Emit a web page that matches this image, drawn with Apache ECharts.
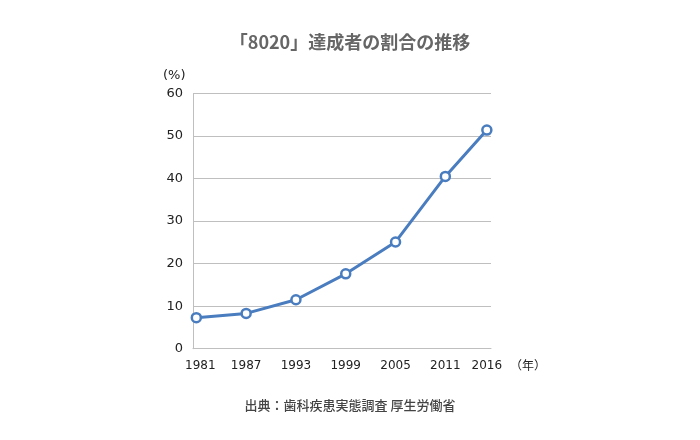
<!DOCTYPE html>
<html>
<head>
<meta charset="utf-8">
<script src="https://cdn.jsdelivr.net/npm/echarts@6/dist/echarts.min.js"></script>
<style>
html,body{margin:0;padding:0;background:#fff;}
#chart{width:700px;height:440px;}
</style>
</head>
<body>
<div id="chart"></div>
<script>
const titleText = '「8020」達成者の割合の推移';
const sourceText = '出典：歯科疾患実態調査 厚生労働省';
const years = [1981, 1987, 1993, 1999, 2005, 2011, 2016];
const rates = [7.3, 8.3, 11.5, 17.6, 25.1, 40.5, 51.4];
const yTicks = [0, 10, 20, 30, 40, 50, 60];

const chart = echarts.init(document.getElementById('chart'), null, {renderer: 'canvas'});
const font = '"DejaVu Sans", Verdana, sans-serif';
const cjk = '"Noto Sans CJK JP", sans-serif';

chart.setOption({
  backgroundColor: '#ffffff',
  animation: false,
  title: {
    text: titleText,
    left: 'center',
    top: 28,
    textStyle: {fontFamily: cjk, fontSize: 18, fontWeight: 'bold', color: '#666666'}
  },
  grid: {left: 193, top: 93.5, width: 298, height: 255.2, containLabel: false},
  xAxis: {
    type: 'value',
    min: 1980.6,
    max: 2016.5,
    axisLine: {show: true, lineStyle: {color: '#bfbfbf', width: 1}},
    axisTick: {show: false},
    splitLine: {show: false},
    axisLabel: {
      customValues: years,
      showMinLabel: true,
      showMaxLabel: true,
      margin: 11,
      fontFamily: font, fontSize: 12, color: '#222222',
      formatter: v => v === years[0] ? '{first|' + v + '}' : String(v),
      rich: {first: {fontFamily: font, fontSize: 12, color: '#222222', padding: [0, 0, 0, 8]}}
    }
  },
  yAxis: {
    type: 'value',
    min: 0,
    max: 60,
    interval: 10,
    axisLine: {show: true, lineStyle: {color: '#bfbfbf', width: 1}},
    axisTick: {show: false},
    splitLine: {show: true, lineStyle: {color: '#bfbfbf', width: 1}},
    axisLabel: {
      margin: 10,
      fontFamily: font, fontSize: 13, color: '#222222',
      formatter: v => yTicks.includes(v) ? String(v) : ''
    }
  },
  graphic: [
    {type: 'text', left: 163, top: 69, style: {text: '(%)', font: '13px ' + font, fill: '#222222'}},
    {type: 'text', left: 510, top: 359, style: {text: '（年）', font: '12px ' + cjk, fill: '#222222'}},
    {type: 'text', left: 'center', top: 399, style: {text: sourceText, font: '500 13px ' + cjk, fill: '#444444'}}
  ],
  series: [{
    type: 'line',
    data: years.map((y, i) => [y, rates[i]]),
    symbol: 'circle',
    symbolSize: 9,
    itemStyle: {color: '#ffffff', borderColor: '#4a7dbf', borderWidth: 2.5},
    lineStyle: {color: '#4a7dbf', width: 3},
    z: 3
  }]
});
</script>
</body>
</html>
